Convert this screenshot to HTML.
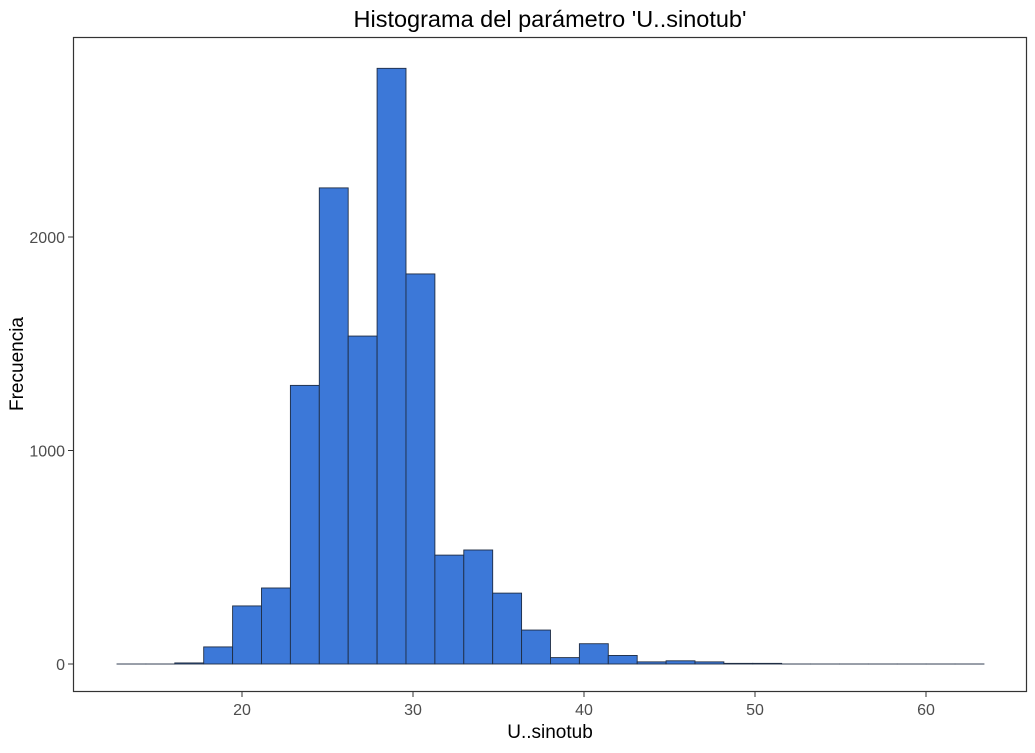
<!DOCTYPE html>
<html><head><meta charset="utf-8"><style>
body{margin:0;background:#fff;font-family:"Liberation Sans",Arial,sans-serif}
</style></head><body>
<svg id="chart" width="1035" height="748" xmlns="http://www.w3.org/2000/svg" font-family="Liberation Sans, Arial, sans-serif">
<rect width="1035" height="748" fill="#fff"/>
<text x="550" y="27" text-anchor="middle" font-size="23.5" fill="#000">Histograma del parámetro 'U..sinotub'</text>
<g id="bars"></g>
<rect x="73.5" y="37.5" width="953" height="654" fill="none" stroke="#333" stroke-width="1.2"/>
<g id="axes"></g>
<text x="550" y="738" text-anchor="middle" font-size="19" fill="#000">U..sinotub</text>
<text transform="translate(23,364) rotate(-90)" text-anchor="middle" font-size="19" fill="#000">Frecuencia</text>
</svg>
<script>
const binStart = 12.69;
const binWidth = 1.69;
const counts = [0,0,5,80,272,356,1305,2230,1536,2790,1827,510,534,332,159,30,95,40,10,15,10,3,3,0,0,0,0,0,0,0];
const xTicks = [20,30,40,50,60];
const yTicks = [0,1000,2000];
const xs = v => 242 + 17.1*(v-20);
const ys = v => 664 - 0.2135*v;
const NS = "http://www.w3.org/2000/svg";
const bars = document.getElementById('bars');
counts.forEach((c,i)=>{
  const x0 = xs(binStart + i*binWidth), x1 = xs(binStart + (i+1)*binWidth);
  const r = document.createElementNS(NS,'rect');
  r.setAttribute('x', x0); r.setAttribute('width', x1-x0);
  r.setAttribute('y', ys(c)); r.setAttribute('height', Math.max(ys(0)-ys(c),0.01));
  r.setAttribute('fill','#3c78d8'); r.setAttribute('stroke','#1f2d44'); r.setAttribute('stroke-width','0.9');
  
  
  bars.appendChild(r);
});
const axes = document.getElementById('axes');
xTicks.forEach(t=>{
  const l = document.createElementNS(NS,'line');
  l.setAttribute('x1',xs(t)); l.setAttribute('x2',xs(t)); l.setAttribute('y1',692); l.setAttribute('y2',697);
  l.setAttribute('stroke','#333');
  
  
  axes.appendChild(l);
  const tx = document.createElementNS(NS,'text');
  tx.setAttribute('x',xs(t)); tx.setAttribute('y',715); tx.setAttribute('text-anchor','middle');
  tx.setAttribute('font-size','16'); tx.setAttribute('fill','#4d4d4d'); tx.textContent = t;
  
  
  axes.appendChild(tx);
});
yTicks.forEach(t=>{
  const l = document.createElementNS(NS,'line');
  l.setAttribute('x1',68); l.setAttribute('x2',73); l.setAttribute('y1',ys(t)); l.setAttribute('y2',ys(t));
  l.setAttribute('stroke','#333');
  
  
  axes.appendChild(l);
  const tx = document.createElementNS(NS,'text');
  tx.setAttribute('x',65); tx.setAttribute('y',ys(t)+6); tx.setAttribute('text-anchor','end');
  tx.setAttribute('font-size','16'); tx.setAttribute('fill','#4d4d4d'); tx.textContent = t;
  
  
  axes.appendChild(tx);
});
</script>
</body></html>
